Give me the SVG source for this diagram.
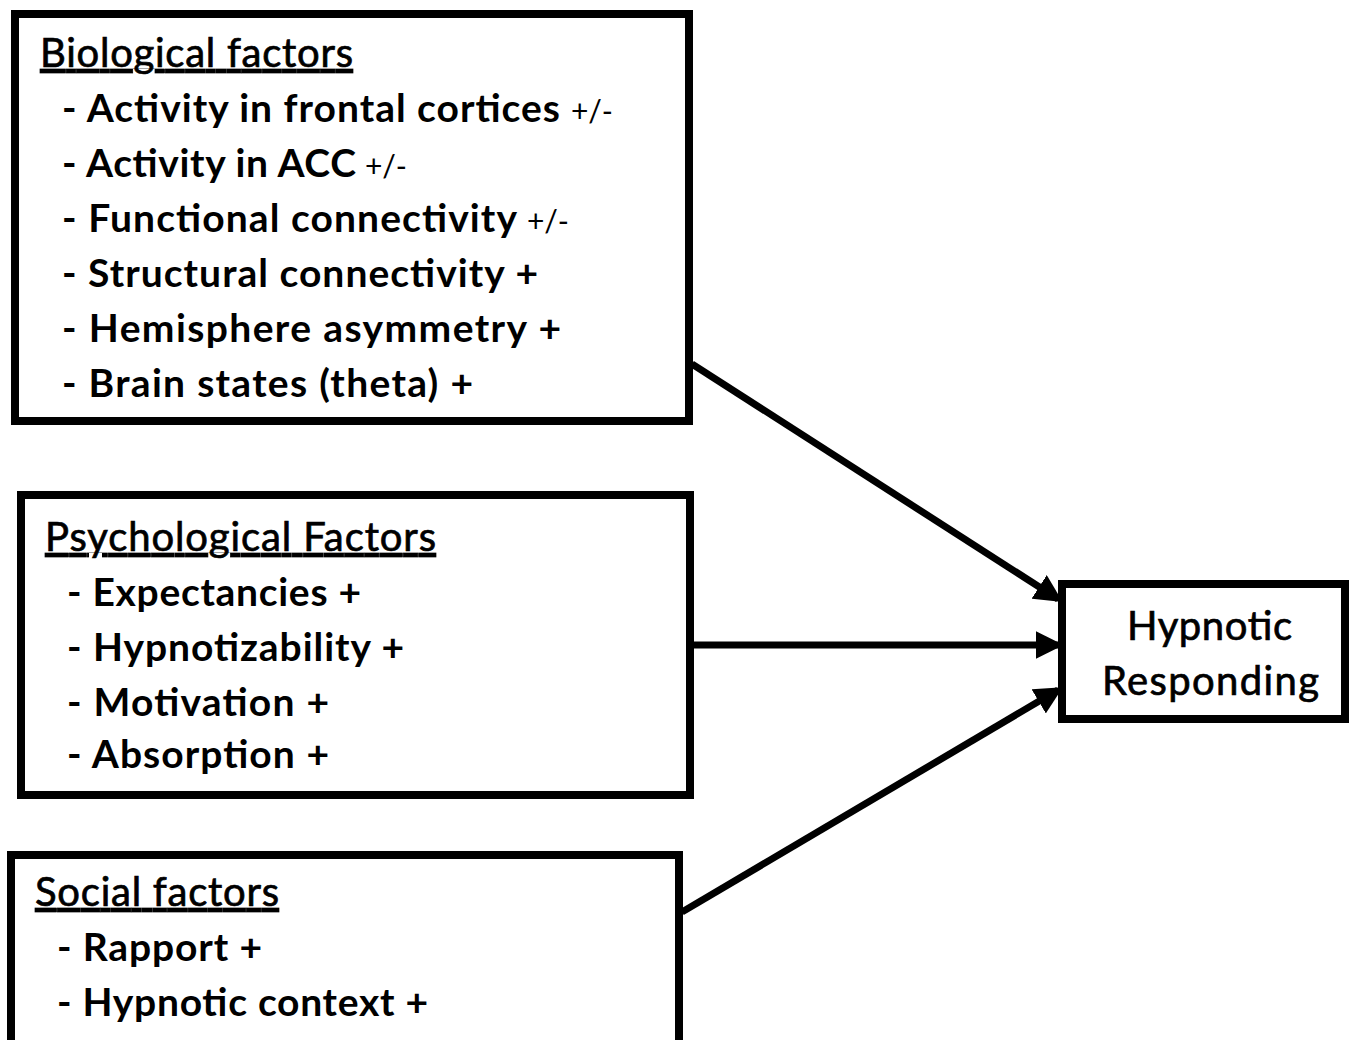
<svg xmlns="http://www.w3.org/2000/svg" width="1352" height="1040" viewBox="0 0 1352 1040">
<style>
.box{fill:#fff;stroke:#000;stroke-width:8}
.hd{font-family:Lato,"Liberation Sans",sans-serif;font-size:40px;fill:#000;stroke:#000;stroke-width:0.7;text-decoration:underline}
.it{font-family:Lato,"Liberation Sans",sans-serif;font-size:39px;font-weight:bold;fill:#000}
.sm{font-family:Lato,"Liberation Sans",sans-serif;font-size:30px;font-weight:normal;fill:#000}
.tg{font-family:Lato,"Liberation Sans",sans-serif;font-size:40px;fill:#000;stroke:#000;stroke-width:0.7}
.cn{stroke:#000;stroke-width:7;fill:none;marker-end:url(#ah)}
</style>
<defs>
<marker id="ah" markerWidth="4" markerHeight="4" refX="3.2" refY="2" orient="auto" markerUnits="strokeWidth">
<path d="M0,0 L4,2 L0,4 z" fill="#000"/>
</marker>
</defs>
<g id="connectors">
<line class="cn" x1="692" y1="364" x2="1058" y2="599"/>
<line class="cn" x1="692" y1="645" x2="1058" y2="645"/>
<line class="cn" x1="682" y1="912" x2="1058" y2="690"/>
</g>
<g id="biological">
<rect class="box" x="15" y="14" width="674" height="407"/>
<text class="hd" x="40" y="67" textLength="313">Biological factors</text>
<text class="it" x="62" y="122" textLength="498">- Activity in frontal cortices</text>
<text class="sm" x="571" y="122" textLength="42">+/-</text>
<text class="it" x="62" y="177" textLength="294">- Activity in ACC</text>
<text class="sm" x="365" y="177" textLength="42">+/-</text>
<text class="it" x="62" y="232" textLength="455">- Functional connectivity</text>
<text class="sm" x="527" y="232" textLength="42">+/-</text>
<text class="it" x="62" y="287" textLength="476">- Structural connectivity +</text>
<text class="it" x="62" y="342" textLength="499">- Hemisphere asymmetry +</text>
<text class="it" x="62" y="397" textLength="411">- Brain states (theta) +</text>
</g>
<g id="psychological">
<rect class="box" x="21" y="495" width="669" height="300"/>
<text class="hd" x="45" y="551" textLength="391">Psychological Factors</text>
<text class="it" x="67" y="606" textLength="294">- Expectancies +</text>
<text class="it" x="67" y="661" textLength="337">- Hypnotizability +</text>
<text class="it" x="67" y="716" textLength="262">- Motivation +</text>
<text class="it" x="67" y="768" textLength="262">- Absorption +</text>
</g>
<g id="social">
<rect class="box" x="11" y="855" width="668" height="200"/>
<text class="hd" x="35" y="906" textLength="244">Social factors</text>
<text class="it" x="57" y="961" textLength="205">- Rapport +</text>
<text class="it" x="57" y="1016" textLength="371">- Hypnotic context +</text>
</g>
<g id="hypnotic">
<rect class="box" x="1062" y="584" width="283" height="135"/>
<text class="tg" x="1127" y="640" textLength="165">Hypnotic</text>
<text class="tg" x="1102" y="695" textLength="217">Responding</text>
</g>
</svg>
